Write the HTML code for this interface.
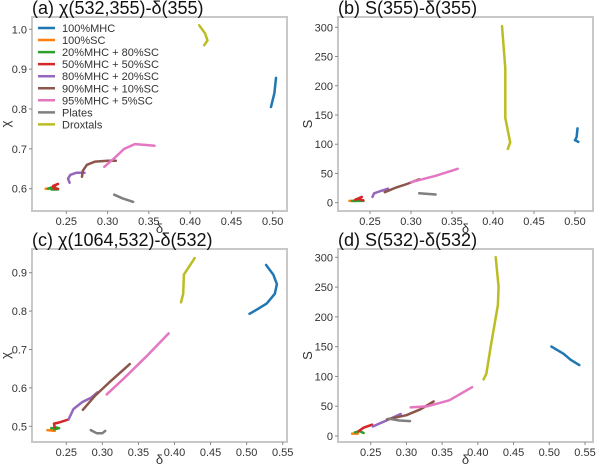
<!DOCTYPE html>
<html><head><meta charset="utf-8"><style>
html,body{margin:0;padding:0;background:#fff}
svg{display:block;font-family:"Liberation Sans","DejaVu Sans",sans-serif}
</style></head><body>
<svg id="fig" width="600" height="469" viewBox="0 0 600 469"></svg>
<script>
const seriesNames=["100%MHC","100%SC","20%MHC + 80%SC","50%MHC + 50%SC","80%MHC + 20%SC","90%MHC + 10%SC","95%MHC + 5%SC","Plates","Droxtals"];
const colors=["#1f77b4","#ff7f0e","#2ca02c","#d62728","#9467bd","#8c564b","#e377c2","#7f7f7f","#bcbd22"];
const xTicksA=[0.25,0.30,0.35,0.40,0.45,0.50];
const yTicksA=[0.6,0.7,0.8,0.9,1.0];
const yTicksS=[0,50,100,150,200,250,300];
const xTicksC=[0.25,0.30,0.35,0.40,0.45,0.50,0.55];
const yTicksC=[0.5,0.6,0.7,0.8,0.9];
const dataA=[
[[0.498,0.805],[0.502,0.84],[0.504,0.878]],
[[0.225,0.6],[0.235,0.601]],
[[0.228,0.6],[0.235,0.605],[0.240,0.598],[0.232,0.598]],
[[0.234,0.605],[0.240,0.612],[0.234,0.607],[0.235,0.600],[0.240,0.600]],
[[0.254,0.615],[0.252,0.625],[0.255,0.635],[0.262,0.640],[0.272,0.640]],
[[0.269,0.630],[0.270,0.645],[0.275,0.660],[0.285,0.668],[0.300,0.670],[0.310,0.670]],
[[0.296,0.655],[0.310,0.680],[0.320,0.700],[0.333,0.712],[0.345,0.710],[0.357,0.708]],
[[0.308,0.585],[0.318,0.576],[0.331,0.567]],
[[0.411,1.01],[0.418,0.99],[0.421,0.972],[0.417,0.96]]];
const dataB=[
[[0.503,127],[0.502,112],[0.500,107],[0.504,104]],
[[0.225,3],[0.232,3]],
[[0.228,3],[0.242,3]],
[[0.232,5],[0.240,10],[0.235,7],[0.242,4]],
[[0.253,10],[0.255,16],[0.263,20],[0.272,24]],
[[0.268,18],[0.280,25],[0.295,32],[0.310,40]],
[[0.300,35],[0.330,46],[0.357,58]],
[[0.310,16],[0.330,14]],
[[0.411,302],[0.415,230],[0.415,145],[0.421,103],[0.418,92]]];
const dataC=[
[[0.527,0.92],[0.537,0.895],[0.542,0.87],[0.539,0.845],[0.528,0.82],[0.515,0.805],[0.504,0.793]],
[[0.224,0.49],[0.234,0.488]],
[[0.229,0.495],[0.236,0.497],[0.240,0.495],[0.233,0.492]],
[[0.234,0.497],[0.233,0.507],[0.240,0.510],[0.253,0.518]],
[[0.253,0.518],[0.260,0.545],[0.272,0.563],[0.285,0.575],[0.293,0.588]],
[[0.273,0.543],[0.290,0.580],[0.310,0.615],[0.338,0.662]],
[[0.306,0.583],[0.330,0.625],[0.360,0.680],[0.392,0.742]],
[[0.284,0.49],[0.292,0.482],[0.300,0.482],[0.304,0.488]],
[[0.409,0.823],[0.412,0.845],[0.413,0.895],[0.420,0.915],[0.428,0.938]]];
const dataD=[
[[0.503,150],[0.520,138],[0.530,128],[0.542,119]],
[[0.224,4],[0.232,4]],
[[0.228,6],[0.235,8],[0.240,5]],
[[0.233,8],[0.240,14],[0.252,19]],
[[0.253,16],[0.270,25],[0.292,37]],
[[0.273,28],[0.300,35],[0.320,45],[0.338,58]],
[[0.306,48],[0.330,50],[0.360,60],[0.392,82]],
[[0.275,29],[0.290,26],[0.305,25]],
[[0.425,300],[0.429,250],[0.428,220],[0.418,150],[0.412,105],[0.408,95]]];

const NS="http://www.w3.org/2000/svg";
const svg=document.getElementById('fig');
function mk(tag,attrs,parent){const e=document.createElementNS(NS,tag);for(const k in attrs)e.setAttribute(k,attrs[k]);(parent||svg).appendChild(e);return e;}

function panel(id,title,box,xr,yr,xt,yt,xfmt,yfmt,ylab,data){
  const g=mk('g',{});
  
  
  const sx=v=>xr[2]+(v-xr[0])*(xr[3]-xr[2])/(xr[1]-xr[0]);
  const sy=v=>yr[2]+(v-yr[0])*(yr[3]-yr[2])/(yr[1]-yr[0]);
  const fr=mk('rect',{x:box[0],y:box[1],width:box[2]-box[0],height:box[3]-box[1],fill:'none',stroke:'#c8c8c8','stroke-width':2},g);
  
  
  xt.forEach(v=>{const x=sx(v);
    mk('line',{x1:x,x2:x,y1:box[3],y2:box[3]+3,stroke:'#888'},g);
    const t=mk('text',{x:x,y:box[3]+14,'text-anchor':'middle','font-size':11,fill:'#333'},g);
    
    
    t.textContent=v.toFixed(xfmt);});
  yt.forEach(v=>{const y=sy(v);
    mk('line',{x1:box[0]-3,x2:box[0],y1:y,y2:y,stroke:'#888'},g);
    const t=mk('text',{x:box[0]-5,y:y+4,'text-anchor':'end','font-size':11,fill:'#333'},g);
    
    
    t.textContent=v.toFixed(yfmt);});
  const xl=mk('text',{x:(box[0]+box[2])/2,y:box[3]+22,'text-anchor':'middle','font-size':13,fill:'#333'},g);
  
  
  xl.textContent='δ';
  const ycx=box[0]-(yfmt===0?26:22), ycy=(box[1]+box[3])/2+10;
  const yl=mk('text',{x:ycx,y:ycy,'text-anchor':'middle','font-size':13,fill:'#333',transform:`rotate(-90 ${ycx} ${ycy})`},g);
  
  
  yl.textContent=ylab;
  const tt=mk('text',{x:box[0],y:box[1]-3,'font-size':18,fill:'#111'},g);
  
  
  tt.textContent=title;
  data.forEach((s,i)=>{
    const p=mk('polyline',{points:s.map(d=>sx(d[0]).toFixed(1)+','+sy(d[1]).toFixed(1)).join(' '),fill:'none',stroke:colors[i],'stroke-width':2.5,'stroke-linejoin':'round','stroke-linecap':'round'},g);
    
    
  });
}
panel('a','(a) χ(532,355)-δ(355)',[32,17,287,211],[0.25,0.50,66.3,272.7],[0.6,1.0,188.7,29.3],xTicksA,yTicksA,2,1,'χ',dataA);
panel('b','(b) S(355)-δ(355)',[338,17,593,211],[0.25,0.50,370,575],[0,300,202.7,27.3],xTicksA,yTicksS,2,0,'S',dataB);
panel('c','(c) χ(1064,532)-δ(532)',[32,249,287,442],[0.25,0.55,66.3,282.7],[0.5,0.9,426.3,272.7],xTicksC,yTicksC,2,1,'χ',dataC);
panel('d','(d) S(532)-δ(532)',[338,249,593,442],[0.25,0.55,370.7,585],[0,300,436,257.3],xTicksC,yTicksS,2,0,'S',dataD);
const lg=mk('g',{});


seriesNames.forEach((n,i)=>{const y=28+i*12.05;
  mk('line',{x1:38,x2:55,y1:y,y2:y,stroke:colors[i],'stroke-width':2.5},lg);
  const t=mk('text',{x:62,y:y+4,'font-size':11,fill:'#333'},lg);
  
  
  t.textContent=n;});
</script>
</body></html>
